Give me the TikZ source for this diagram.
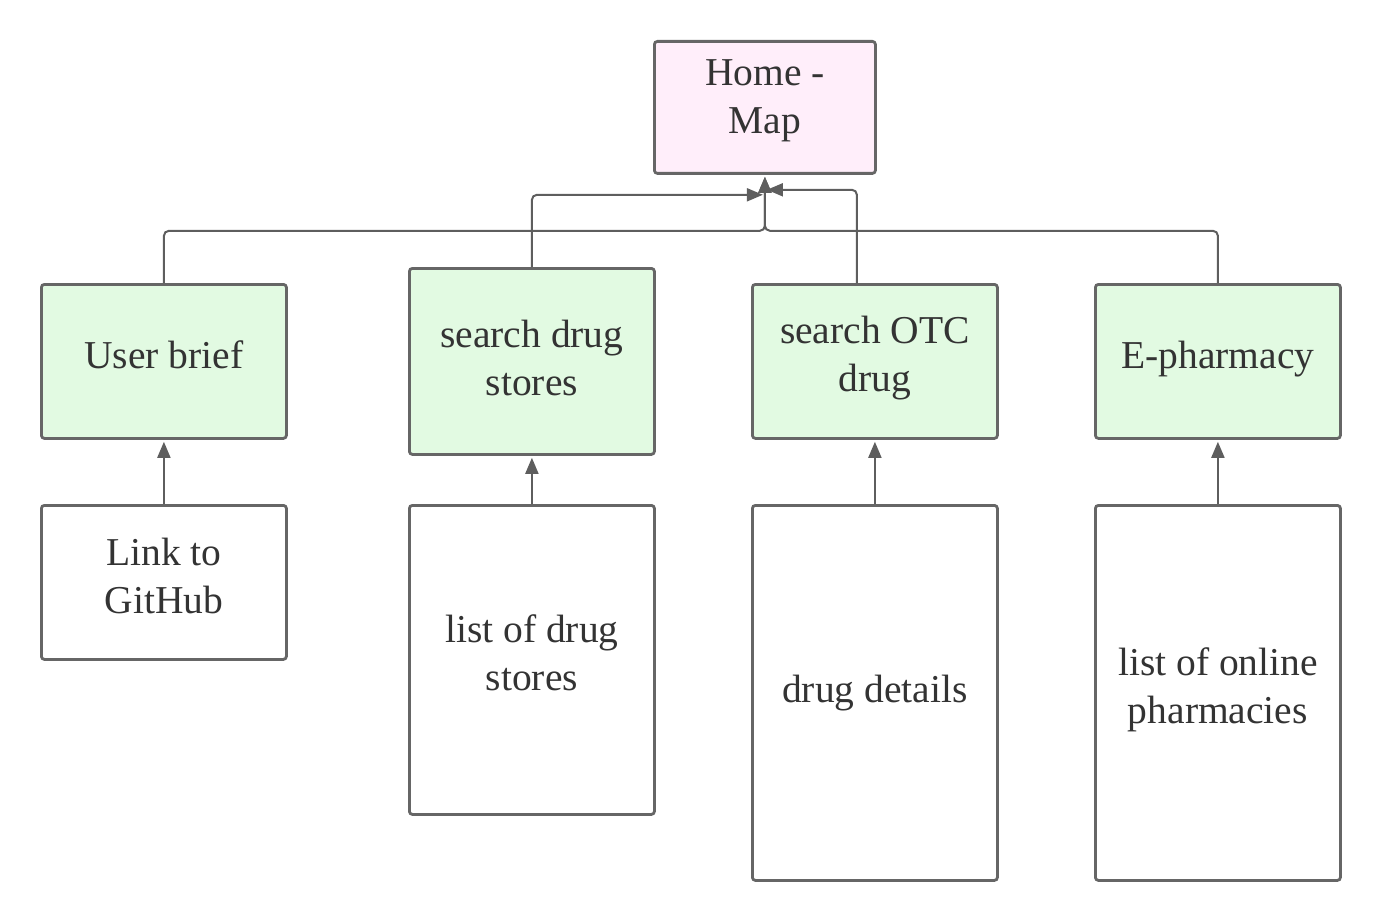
\documentclass[tikz,border=0pt]{standalone}
\usepackage{fontspec}
\setmainfont{Liberation Serif}
\usetikzlibrary{arrows.meta,calc}
\definecolor{bordc}{HTML}{666666}
\definecolor{linec}{HTML}{5E5E5E}
\definecolor{txtc}{HTML}{333333}
\definecolor{pinkf}{HTML}{FFEEFA}
\definecolor{greenf}{HTML}{E2FAE2}
\newcommand\liftup[2][10]{\raisebox{0pt}[\height][\dimexpr\depth+#1pt\relax]{\begin{tabular}{@{}c@{}}#2\end{tabular}}}
\tikzset{
  box/.style={draw=bordc, line width=2.8pt, rounded corners=3pt, text=txtc,
    inner sep=0pt, font=\fontsize{39.5}{48}\selectfont, anchor=north west},
  conn/.style={draw=linec, line width=2pt, rounded corners=5pt,
    -{Triangle[length=16pt,width=13pt]}, shorten >=2pt},
}
\begin{document}
\begin{tikzpicture}[x=1pt,y=-1pt]
\useasboundingbox (0,0) rectangle (1380,920);
\node[box, fill=pinkf, minimum width=221pt, minimum height=132pt] (home) at (653,40) {\liftup[14]{Home -\\Map}};
\node[box, fill=greenf, minimum width=245pt, minimum height=154pt] (ub) at (40,283) {\liftup[6]{User brief}};
\node[box, fill=greenf, minimum width=245pt, minimum height=186pt] (sds) at (408,267) {\liftup[0]{search drug\\stores}};
\node[box, fill=greenf, minimum width=245pt, minimum height=154pt] (otc) at (751,283) {\liftup[8]{search OTC\\drug}};
\node[box, fill=greenf, minimum width=245pt, minimum height=154pt] (ep) at (1094,283) {\liftup[6]{E-pharmacy}};
\node[box, fill=white, minimum width=245pt, minimum height=154pt] (gh) at (40,504) {\liftup[6]{Link to\\GitHub}};
\node[box, fill=white, minimum width=245pt, minimum height=309pt] (lds) at (408,504) {\liftup[6]{list of drug\\stores}};
\node[box, fill=white, minimum width=245pt, minimum height=375pt] (dd) at (751,504) {\liftup[0]{drug details}};
\node[box, fill=white, minimum width=245pt, minimum height=375pt] (lop) at (1094,504) {\liftup[6]{list of online\\pharmacies}};
\coordinate (j) at ($(home.south)+(0,56)$);
\coordinate (tl) at ($(home.south)+(0,20)$);
\coordinate (tr) at ($(home.south)+(0,15)$);
\draw[conn] (ub.north) |- (j) -- (home.south);
\draw[conn] (ep.north) |- (j) -- (home.south);
\draw[conn] (sds.north) |- (tl);
\draw[conn] ($(otc.north)+(-18,0)$) |- (tr);
\draw[conn] (gh.north) -- (ub.south);
\draw[conn] (lds.north) -- (sds.south);
\draw[conn] (dd.north) -- (otc.south);
\draw[conn] (lop.north) -- (ep.south);
\end{tikzpicture}
\end{document}
